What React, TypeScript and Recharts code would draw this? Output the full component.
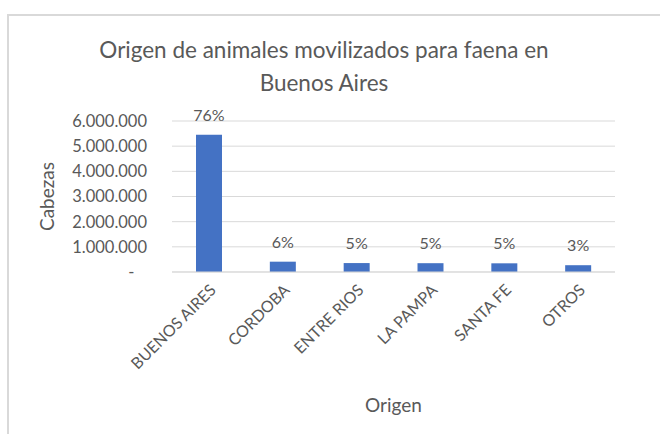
import { BarChart, Bar, XAxis, YAxis, CartesianGrid, LabelList } from 'recharts';

const origins = ['BUENOS AIRES', 'CORDOBA', 'ENTRE RIOS', 'LA PAMPA', 'SANTA FE', 'OTROS'];
const heads = [5450000, 410000, 355000, 350000, 345000, 270000];
const shares = [76, 6, 5, 5, 5, 3];
const yTicks = [0, 1000000, 2000000, 3000000, 4000000, 5000000, 6000000];

const data = origins.map((origin, i) => ({ origin, heads: heads[i], share: shares[i] }));

const FONT = 'Lato, "Open Sans", sans-serif';
const TEXT = '#595959';
const GRID = '#d9d9d9';

const fmtTick = (v: number) => (v === 0 ? '-\u00A0\u00A0\u00A0' : v.toLocaleString('de-DE'));

export default function App() {
  return (
    <div style={{ position: 'absolute', left: 0, top: 0, width: 660, height: 434, background: 'white', fontFamily: FONT }}>
      <div
        style={{
          position: 'absolute',
          left: 7,
          top: 14,
          width: 653,
          height: 420,
          borderLeft: `2px solid ${GRID}`,
          borderTop: `2px solid ${GRID}`,
          boxSizing: 'border-box',
        }}
      />
      <div
        style={{
          position: 'absolute',
          left: 0,
          top: 33,
          width: 648,
          textAlign: 'center',
          color: TEXT,
          fontSize: 22.5,
          lineHeight: '33px',
        }}
      >
        Origen de animales movilizados para faena en
        <br />
        Buenos Aires
      </div>
      <div style={{ position: 'absolute', left: 0, top: 0 }}>
        <BarChart width={660} height={434} data={data} margin={{ top: 121, right: 45, bottom: 0, left: 0 }}>
          <CartesianGrid vertical={false} stroke={GRID} />
          <XAxis
            dataKey="origin"
            height={162}
            interval={0}
            angle={-45}
            textAnchor="end"
            tickLine={false}
            axisLine={{ stroke: GRID }}
            tickMargin={5}
            tick={{ fontSize: 16, fill: TEXT, fontFamily: FONT }}
            label={{ value: 'Origen', position: 'insideBottom', offset: 22, fill: TEXT, fontSize: 19, fontFamily: FONT }}
          />
          <YAxis
            width={172}
            domain={[0, 6000000]}
            ticks={yTicks}
            interval={0}
            tickFormatter={fmtTick}
            tickLine={false}
            axisLine={false}
            tickSize={0}
            tickMargin={25}
            tick={{ fontSize: 16.5, fill: TEXT, fontFamily: FONT }}
            label={{
              value: 'Cabezas',
              angle: -90,
              position: 'insideLeft',
              offset: 47,
              fill: TEXT,
              fontSize: 19,
              fontFamily: FONT,
              style: { textAnchor: 'middle' },
            }}
          />
          <Bar dataKey="heads" fill="#4472C4" barSize={26} isAnimationActive={false}>
            <LabelList
              dataKey="share"
              position="top"
              offset={14}
              formatter={(v: number) => `${v}%`}
              style={{ fontSize: 16, fill: TEXT, fontFamily: FONT }}
            />
          </Bar>
        </BarChart>
      </div>
    </div>
  );
}
